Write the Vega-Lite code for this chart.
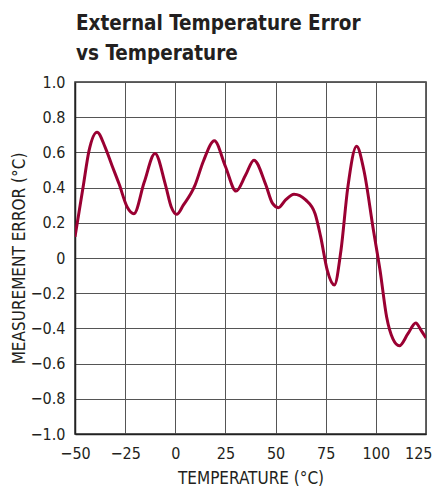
{
  "$schema": "https://vega.github.io/schema/vega-lite/v6.json",
  "autosize": "none",
  "width": 351,
  "height": 352,
  "padding": {"left": 75, "top": 82, "right": 12, "bottom": 55},
  "background": "white",
  "title": {
    "text": ["External Temperature Error", "vs Temperature"],
    "anchor": "start",
    "frame": "group",
    "font": "DejaVu Sans Condensed, Roboto, sans-serif",
    "fontSize": 20.5,
    "fontWeight": "bold",
    "color": "#231f20",
    "lineHeight": 30,
    "offset": 10,
    "dx": 1
  },
  "config": {
    "view": {"stroke": "#333333", "strokeWidth": 1.5},
    "axis": {
      "labelFont": "DejaVu Sans Condensed, Roboto, sans-serif",
      "titleFont": "DejaVu Sans Condensed, Roboto, sans-serif",
      "labelFontSize": 16,
      "titleFontSize": 17,
      "titleFontWeight": "normal",
      "labelColor": "#231f20",
      "titleColor": "#231f20",
      "gridColor": "#555555",
      "gridWidth": 1,
      "gridOpacity": 1,
      "domainColor": "#222222",
      "domainWidth": 1.5,
      "ticks": false
    }
  },
  "data": {
    "values": [
      {"t": -50, "e": 0.12},
      {"t": -46, "e": 0.40},
      {"t": -43, "e": 0.61},
      {"t": -39, "e": 0.715},
      {"t": -35, "e": 0.63},
      {"t": -31.7, "e": 0.53},
      {"t": -28, "e": 0.42},
      {"t": -24, "e": 0.29},
      {"t": -20.6, "e": 0.252},
      {"t": -15.5, "e": 0.43},
      {"t": -10.1, "e": 0.594},
      {"t": -5, "e": 0.42},
      {"t": -2, "e": 0.29},
      {"t": 0.7, "e": 0.248},
      {"t": 4, "e": 0.3},
      {"t": 9.8, "e": 0.413},
      {"t": 14, "e": 0.55},
      {"t": 19.5, "e": 0.666},
      {"t": 25, "e": 0.52},
      {"t": 30.3, "e": 0.38},
      {"t": 35, "e": 0.47},
      {"t": 39.2, "e": 0.556},
      {"t": 45, "e": 0.42},
      {"t": 48.5, "e": 0.31},
      {"t": 51.4, "e": 0.286},
      {"t": 55, "e": 0.33},
      {"t": 59.2, "e": 0.362},
      {"t": 65, "e": 0.33},
      {"t": 69.7, "e": 0.252},
      {"t": 72.5, "e": 0.12},
      {"t": 75.8, "e": -0.071},
      {"t": 79.3, "e": -0.153},
      {"t": 82.6, "e": 0.043},
      {"t": 86, "e": 0.4},
      {"t": 90.4, "e": 0.635},
      {"t": 94, "e": 0.5},
      {"t": 98.8, "e": 0.157},
      {"t": 102.1, "e": -0.071},
      {"t": 105.4, "e": -0.337},
      {"t": 108.5, "e": -0.46},
      {"t": 111.7, "e": -0.499},
      {"t": 116, "e": -0.43},
      {"t": 119.9, "e": -0.369},
      {"t": 122.5, "e": -0.41},
      {"t": 125, "e": -0.455}
    ]
  },
  "mark": {"type": "line", "interpolate": "monotone", "color": "#9a0032", "strokeWidth": 3, "clip": true},
  "encoding": {
    "x": {
      "field": "t",
      "type": "quantitative",
      "scale": {"domain": [-50, 125], "nice": false, "zero": false},
      "axis": {
        "values": [-50, -25, 0, 25, 50, 75, 100, 125],
        "title": "TEMPERATURE (°C)",
        "labelPadding": 11,
        "titlePadding": 9,
        "labelFlush": false,
        "labelAlign": {"condition": {"test": "datum.value == 125", "value": "right"}, "value": "center"},
        "labelOffset": {"condition": {"test": "datum.value == 125", "value": 6}, "value": 0}
      }
    },
    "y": {
      "field": "e",
      "type": "quantitative",
      "scale": {"domain": [-1, 1], "nice": false},
      "axis": {
        "values": [-1, -0.8, -0.6, -0.4, -0.2, 0, 0.2, 0.4, 0.6, 0.8, 1],
        "labelExpr": "datum.value == 0 ? '0' : format(datum.value, '.1f')",
        "title": "MEASUREMENT ERROR (°C)",
        "labelPadding": 10,
        "titlePadding": 2,
        "labelFlush": false
      }
    }
  }
}
